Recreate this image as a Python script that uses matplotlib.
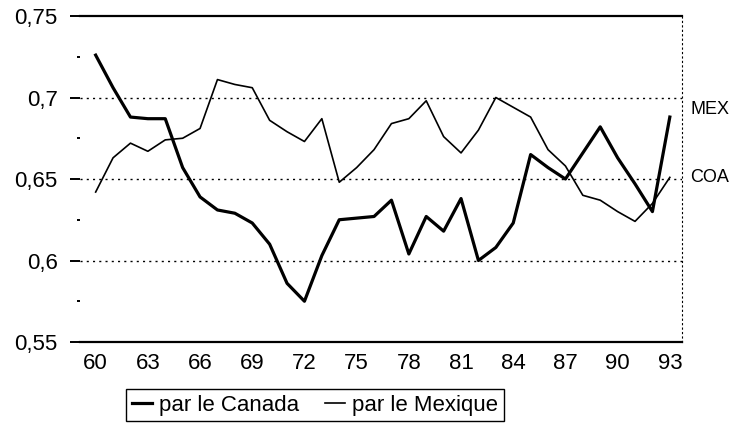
import numpy as np
import matplotlib.pyplot as plt
from matplotlib.ticker import MultipleLocator, FuncFormatter

# années 1960-1993
annees = np.arange(60, 94)

canada = [0.726, 0.706, 0.688, 0.687, 0.687, 0.657, 0.639, 0.631, 0.629, 0.623,
          0.610, 0.586, 0.575, 0.603, 0.625, 0.626, 0.627, 0.637, 0.604, 0.627,
          0.618, 0.638, 0.600, 0.608, 0.623, 0.665, 0.657, 0.650, 0.666, 0.682,
          0.663, 0.647, 0.630, 0.688]

mexique = [0.642, 0.663, 0.672, 0.667, 0.674, 0.675, 0.681, 0.711, 0.708, 0.706,
           0.686, 0.679, 0.673, 0.687, 0.648, 0.657, 0.668, 0.684, 0.687, 0.698,
           0.676, 0.666, 0.680, 0.700, 0.694, 0.688, 0.668, 0.658, 0.640, 0.637,
           0.630, 0.624, 0.635, 0.651]

xticks = np.arange(60, 94, 3)
yticks = [0.55, 0.6, 0.65, 0.7, 0.75]

plt.rcParams['font.family'] = ['Liberation Sans', 'DejaVu Sans']

fig = plt.figure(figsize=(7.4, 4.32), dpi=100)
ax = fig.add_axes([80/740, 1 - 342/432, 602/740, 326/432])

ax.plot(annees, canada, color='black', lw=2.3, label='par le Canada', solid_joinstyle='round')
ax.plot(annees, mexique, color='black', lw=1.2, label='par le Mexique')

ax.set_xlim(59.1, 93.7)
ax.set_ylim(0.55, 0.75)

# grille pointillée
for v in yticks[1:-1]:
    ax.axhline(v, color='black', lw=1.0, ls=(0, (1.5, 3)), zorder=0)

ax.spines['left'].set_visible(False)
ax.spines['top'].set_linewidth(1.6)
ax.spines['bottom'].set_linewidth(1.6)
ax.spines['right'].set_linestyle((0, (1, 3)))
ax.spines['right'].set_linewidth(0.8)

ax.set_yticks(yticks)
ax.yaxis.set_minor_locator(MultipleLocator(0.025))
ax.yaxis.set_major_formatter(FuncFormatter(lambda v, p: ('%g' % round(v, 3)).replace('.', ',')))
ax.tick_params(axis='y', which='major', length=7, width=1.4, direction='out', pad=9, labelsize=16)
ax.tick_params(axis='y', which='minor', length=2, width=1.4, direction='out')

ax.set_xticks(xticks)
ax.set_xticklabels([str(a) for a in xticks])
ax.tick_params(axis='x', length=0, pad=8, labelsize=16)

fig.legend(loc='center', bbox_to_anchor=(315/740, 1 - 405/432), ncol=2, fontsize=16,
           frameon=True, fancybox=False, edgecolor='black', framealpha=1,
           handlelength=0.9, handletextpad=0.3, columnspacing=1.2, borderpad=0.25)

# annotations manuscrites
fig.text(690/740, 1 - 110/432, 'MEX', fontsize=13, va='center', ha='left')
fig.text(690/740, 1 - 177/432, 'COA', fontsize=13, va='center', ha='left')

fig.savefig('out.png', dpi=100)
